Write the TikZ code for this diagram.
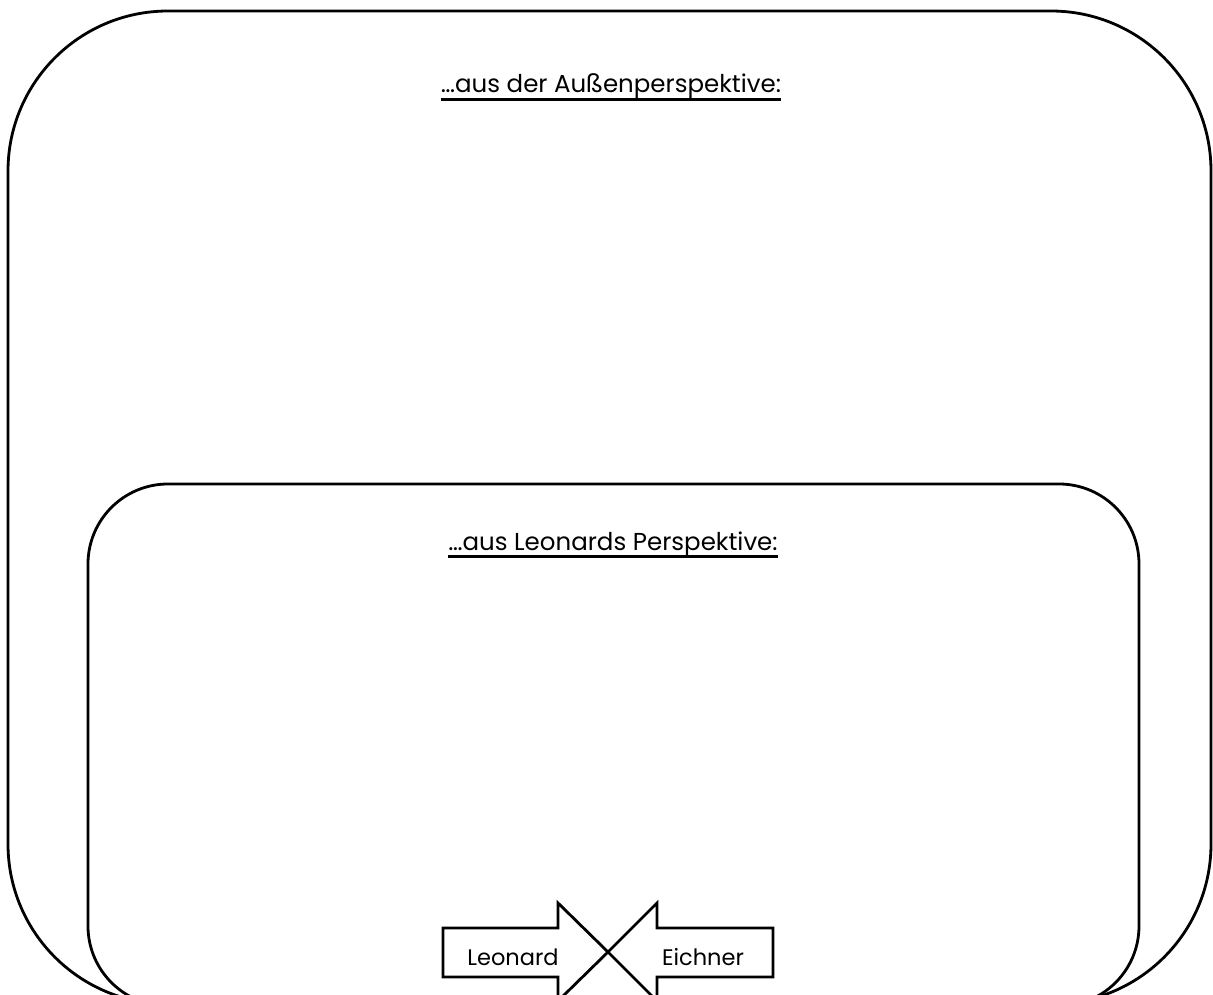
\documentclass[tikz,border=0pt]{standalone}
\usepackage{fontspec}
\setmainfont{Poppins}
\begin{document}
\begin{tikzpicture}[x=1pt,y=-1pt,
  frame/.style={draw=black,line width=2.8pt,rounded corners=#1},
  ttl/.style={anchor=base,inner sep=0pt,font=\fontsize{24.5}{29}\selectfont},
  lbl/.style={anchor=base,inner sep=0pt,font=\fontsize{22.5}{27}\selectfont},
  arrowoutline/.style={draw=black,line width=2.8pt,line join=miter,fill=white}]
\useasboundingbox (0,0) rectangle (1213,995);
\clip (0,0) rectangle (1213,995);
\fill[white] (0,0) rectangle (1213,995);
% outer frame
\draw[frame=160] (8,11) rectangle (1211,1004);
% inner frame
\draw[frame=80] (88,484) rectangle (1139,1006);
% titles
\node[ttl] (t1) at (611,93) {…aus der Außenperspektive:};
\draw[line width=2.4pt] ([yshift=-6.5pt]t1.base west) -- ([yshift=-6.5pt]t1.base east);
\node[ttl] (t2) at (613,550) {…aus Leonards Perspektive:};
\draw[line width=2.4pt] ([yshift=-6.5pt]t2.base west) -- ([yshift=-6.5pt]t2.base east);
% arrows
\coordinate (tip) at (608,952);
\draw[arrowoutline] (443,928) -- (558,928) -- (558,903) -- (tip) -- (558,1001) -- (558,977) -- (443,977) -- cycle;
\draw[arrowoutline,fill=none] (773,928) -- (657,928) -- (657,903) -- (tip) -- (657,1001) -- (657,977) -- (773,977) -- cycle;
\node[lbl] (leo) at (513,965) {Leonard};
\node[lbl] (eic) at (703,965) {Eichner};
\end{tikzpicture}
\end{document}
